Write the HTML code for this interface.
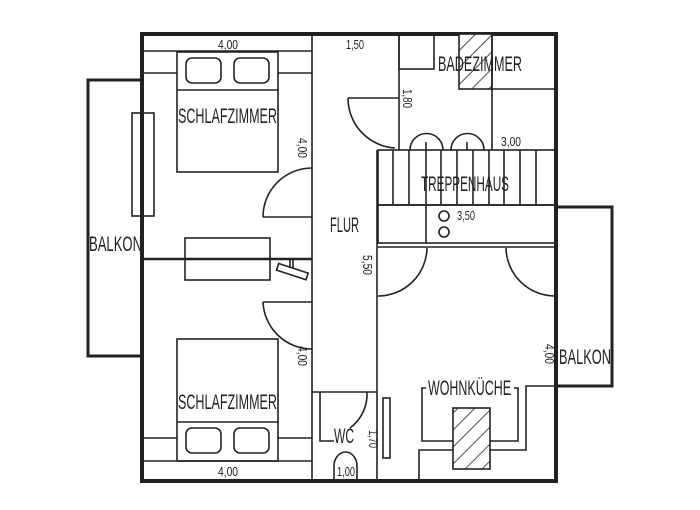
<!DOCTYPE html>
<html><head><meta charset="utf-8"><style>
html,body{margin:0;padding:0;background:#fff;}
svg{display:block;}
text{font-family:"Liberation Sans",sans-serif;fill:#222;}
</style></head><body>
<svg width="700" height="510" viewBox="0 0 700 510" xmlns="http://www.w3.org/2000/svg">
<defs>
<pattern id="h" width="12" height="12" patternUnits="userSpaceOnUse" patternTransform="rotate(45)">
<rect width="12" height="12" fill="#fff"/><line x1="0" y1="0" x2="0" y2="12" stroke="#222" stroke-width="1.6"/>
</pattern>
</defs>
<g fill="none" stroke="#222" stroke-width="1.6">
<rect x="88" y="80" width="54" height="276" stroke-width="3"/>
<rect x="556" y="207" width="56" height="179" stroke-width="3"/>
<rect x="132" y="113" width="22" height="103" fill="#fff"/>
<rect x="142" y="34" width="414" height="447" stroke-width="4"/>
<line x1="142" y1="51" x2="312" y2="51"/>
<line x1="312" y1="34" x2="312" y2="481"/>
<rect x="177" y="52" width="101" height="120"/>
<line x1="177" y1="90" x2="278" y2="90"/>
<rect x="186" y="58" width="35" height="25" rx="6"/>
<rect x="234" y="58" width="35" height="25" rx="6"/>
<line x1="142" y1="73" x2="177" y2="73"/>
<line x1="278" y1="73" x2="312" y2="73"/>
<line x1="263" y1="217" x2="312" y2="217"/>
<path d="M263,217 A49,49 0 0 1 312,168"/>
<line x1="142" y1="259" x2="312" y2="259" stroke-width="2.5"/>
<rect x="185" y="238" width="85" height="42"/>
<rect x="277" y="268" width="31" height="7" transform="rotate(18 292 271)"/>
<line x1="290" y1="259" x2="290" y2="268"/>
<line x1="293" y1="259" x2="293" y2="268"/>
<line x1="263" y1="302" x2="312" y2="302"/>
<path d="M263,302 A49,49 0 0 0 312,349"/>
<rect x="177" y="339" width="101" height="122"/>
<line x1="177" y1="422" x2="278" y2="422"/>
<rect x="186" y="428" width="35" height="25" rx="6"/>
<rect x="234" y="428" width="35" height="25" rx="6"/>
<line x1="142" y1="438" x2="177" y2="438"/>
<line x1="278" y1="438" x2="312" y2="438"/>
<line x1="142" y1="461" x2="312" y2="461"/>
<line x1="399" y1="34" x2="399" y2="150"/>
<rect x="399" y="34" width="35" height="35"/>
<rect x="459" y="34" width="33" height="55" fill="url(#h)"/>
<line x1="492" y1="34" x2="492" y2="150"/>
<line x1="492" y1="89" x2="556" y2="89"/>
<line x1="348" y1="98" x2="399" y2="98"/>
<path d="M348,98 A50,50 0 0 0 395,148"/>
<path d="M410,150 A16,16 0 0 1 443,150"/>
<path d="M451,150 A16,16 0 0 1 484,150"/>
<line x1="426" y1="142" x2="426" y2="150"/>
<line x1="467" y1="142" x2="467" y2="150"/>
<rect x="378" y="150" width="178" height="55"/>
<path d="M393,150V205M409,150V205M426,150V205M441,150V205M457,150V205M473,150V205M489,150V205M504,150V205M520,150V205M536,150V205"/>
<rect x="378" y="205" width="178" height="38"/>
<line x1="426" y1="205" x2="426" y2="243"/>
<circle cx="444" cy="216" r="5"/>
<circle cx="444" cy="232" r="5"/>
<line x1="378" y1="247" x2="556" y2="247"/>
<line x1="377" y1="150" x2="377" y2="481"/>
<path d="M427,248 A49,49 0 0 1 378,296"/>
<path d="M506,248 A49,49 0 0 0 556,296"/>
<rect x="383" y="398" width="7" height="60"/>
<path d="M426,388H422V441H518V388H514"/>
<path d="M419,481V450H526V386H556"/>
<rect x="453" y="408" width="37" height="61" fill="url(#h)"/>
<line x1="312" y1="392" x2="377" y2="392"/>
<path d="M320,392V441H334"/>
<path d="M367,392 A42,42 0 0 1 350,428"/>
<path d="M334,481V466 A11.5,14 0 0 1 357,466V481"/>
</g>
<g font-size="21">
<text x="178" y="123" textLength="99" lengthAdjust="spacingAndGlyphs">SCHLAFZIMMER</text>
<text x="178" y="409" textLength="99" lengthAdjust="spacingAndGlyphs">SCHLAFZIMMER</text>
<text x="89" y="251" textLength="53" lengthAdjust="spacingAndGlyphs">BALKON</text>
<text x="559" y="364" textLength="52" lengthAdjust="spacingAndGlyphs">BALKON</text>
<text x="330" y="232" textLength="29" lengthAdjust="spacingAndGlyphs">FLUR</text>
<text x="438" y="71" textLength="84" lengthAdjust="spacingAndGlyphs">BADEZIMMER</text>
<text x="421" y="191" textLength="88" lengthAdjust="spacingAndGlyphs">TREPPENHAUS</text>
<text x="428" y="395" textLength="83" lengthAdjust="spacingAndGlyphs">WOHNKÜCHE</text>
<text x="334" y="443" textLength="20" lengthAdjust="spacingAndGlyphs">WC</text>
</g>
<g font-size="13">
<text x="218" y="49" textLength="20" lengthAdjust="spacingAndGlyphs">4,00</text>
<text x="218" y="476" textLength="20" lengthAdjust="spacingAndGlyphs">4,00</text>
<text x="346" y="49" textLength="18" lengthAdjust="spacingAndGlyphs">1,50</text>
<text x="501" y="146" textLength="20" lengthAdjust="spacingAndGlyphs">3,00</text>
<text x="457" y="220" textLength="18" lengthAdjust="spacingAndGlyphs">3,50</text>
<text x="337" y="476" textLength="18" lengthAdjust="spacingAndGlyphs">1,00</text>
<text transform="translate(298,138) rotate(90)" textLength="20" lengthAdjust="spacingAndGlyphs">4,00</text>
<text transform="translate(298,346) rotate(90)" textLength="20" lengthAdjust="spacingAndGlyphs">4,00</text>
<text transform="translate(403,89) rotate(90)" textLength="19" lengthAdjust="spacingAndGlyphs">1,80</text>
<text transform="translate(363,255) rotate(90)" textLength="20" lengthAdjust="spacingAndGlyphs">5,50</text>
<text transform="translate(545,344) rotate(90)" textLength="20" lengthAdjust="spacingAndGlyphs">4,00</text>
<text transform="translate(369,430) rotate(90)" textLength="18" lengthAdjust="spacingAndGlyphs">1,70</text>
</g>
</svg>
</body></html>
